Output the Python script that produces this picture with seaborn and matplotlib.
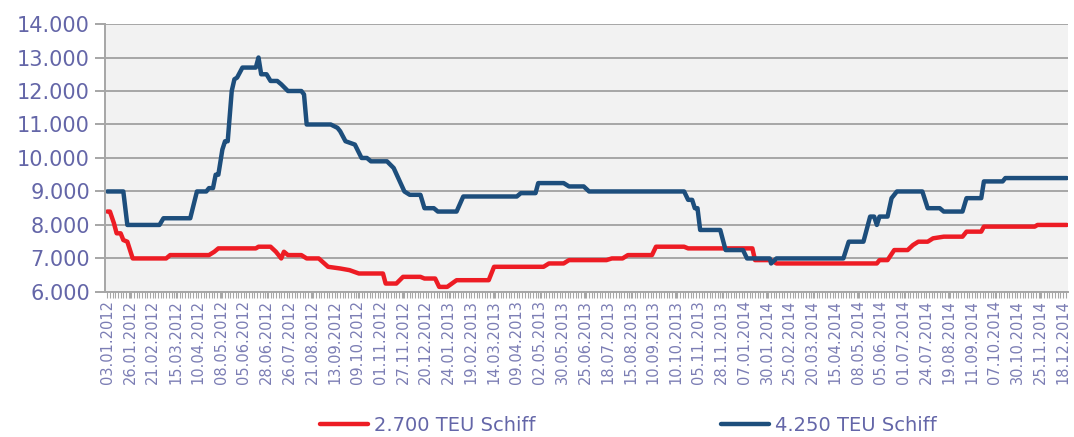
import pandas as pd
import seaborn as sns
import matplotlib.pyplot as plt
from matplotlib.ticker import FuncFormatter, MultipleLocator

# Charterraten (USD/Tag), Index = laufende Notierung
idx_2700 = [0, 2, 5, 7, 10, 12, 15, 19, 44, 47, 76, 80, 83, 111, 113, 122, 126, 130, 132, 135,
            145, 149, 158, 165, 174, 181, 188, 206, 208, 216, 221, 234, 237, 245, 248, 254, 261,
            285, 289, 326, 330, 341, 345, 373, 377, 385, 389, 407, 410, 431, 434, 482, 484, 496,
            500, 575, 577, 583, 588, 598, 602, 606, 613, 617, 625, 639, 642, 653, 655, 693, 695, 717]
teu_2700 = [8400, 8400, 8050, 7750, 7750, 7550, 7500, 7000, 7000, 7100, 7100, 7200, 7300, 7300,
            7350, 7350, 7200, 7000, 7200, 7100, 7100, 7000, 7000, 6750, 6700, 6650, 6550, 6550,
            6250, 6250, 6450, 6450, 6400, 6400, 6150, 6150, 6350, 6350, 6750, 6750, 6850, 6850,
            6950, 6950, 7000, 7000, 7100, 7100, 7350, 7350, 7300, 7300, 6950, 6950, 6850, 6850,
            6950, 6950, 7250, 7250, 7400, 7500, 7500, 7600, 7650, 7650, 7800, 7800, 7950, 7950,
            8000, 8000]

idx_4250 = [0, 12, 15, 39, 42, 62, 67, 74, 76, 79, 81, 83, 86, 88, 90, 93, 95, 97, 101, 111, 113,
            115, 119, 122, 127, 130, 135, 145, 147, 149, 167, 172, 174, 178, 185, 190, 194, 197,
            209, 214, 222, 226, 234, 237, 244, 247, 261, 266, 306, 309, 320, 322, 341, 345, 356,
            360, 431, 434, 437, 439, 441, 443, 458, 462, 475, 478, 495, 496, 500, 550, 554, 565,
            570, 573, 575, 577, 583, 586, 590, 609, 613, 622, 625, 639, 642, 653, 655, 669, 671, 717]
teu_4250 = [9000, 9000, 8000, 8000, 8200, 8200, 9000, 9000, 9100, 9100, 9500, 9500, 10250, 10500,
            10500, 12000, 12350, 12400, 12700, 12700, 13000, 12500, 12500, 12300, 12300, 12200,
            12000, 12000, 11900, 11000, 11000, 10900, 10800, 10500, 10400, 10000, 10000, 9900,
            9900, 9700, 9000, 8900, 8900, 8500, 8500, 8400, 8400, 8850, 8850, 8950, 8950, 9250,
            9250, 9150, 9150, 9000, 9000, 8750, 8750, 8500, 8500, 7850, 7850, 7250, 7250, 7000,
            7000, 6850, 7000, 7000, 7500, 7500, 8250, 8250, 8000, 8250, 8250, 8800, 9000, 9000,
            8500, 8500, 8400, 8400, 8800, 8800, 9300, 9300, 9400, 9400]

date_labels = ["03.01.2012", "26.01.2012", "21.02.2012", "15.03.2012", "10.04.2012", "08.05.2012",
               "05.06.2012", "28.06.2012", "26.07.2012", "21.08.2012", "13.09.2012", "09.10.2012",
               "01.11.2012", "27.11.2012", "20.12.2012", "24.01.2013", "19.02.2013", "14.03.2013",
               "09.04.2013", "02.05.2013", "30.05.2013", "25.06.2013", "18.07.2013", "15.08.2013",
               "10.09.2013", "10.10.2013", "05.11.2013", "28.11.2013", "07.01.2014", "30.01.2014",
               "25.02.2014", "20.03.2014", "15.04.2014", "08.05.2014", "05.06.2014", "01.07.2014",
               "24.07.2014", "19.08.2014", "11.09.2014", "07.10.2014", "30.10.2014", "25.11.2014",
               "18.12.2014"]
label_step = 17

df = pd.concat([
    pd.DataFrame({"idx": idx_2700, "rate": teu_2700, "Schiff": "2.700 TEU Schiff"}),
    pd.DataFrame({"idx": idx_4250, "rate": teu_4250, "Schiff": "4.250 TEU Schiff"}),
])

sns.set_style("white")
plt.rcParams['font.family'] = ['DejaVu Sans']

fig = plt.figure(figsize=(10.74, 4.37), dpi=100)
ax = fig.add_axes([0.098, 0.332, 0.896, 0.613])
ax.set_facecolor("#f2f2f2")

sns.lineplot(data=df, x="idx", y="rate", hue="Schiff", ax=ax, sort=False,
             palette={"2.700 TEU Schiff": "#ed1c24", "4.250 TEU Schiff": "#1d4e7c"},
             linewidth=3.2, estimator=None)

ax.set_ylim(6000, 14000)
ax.yaxis.set_major_locator(MultipleLocator(1000))
ax.yaxis.set_major_formatter(FuncFormatter(lambda v, p: f"{v:,.0f}".replace(",", ".")))
ax.grid(axis="y", color="#a6a6a6", linewidth=1.4)
ax.set_axisbelow(True)

ax.set_xlim(-1.5, 717.5)
ax.set_xticks(range(0, label_step * len(date_labels), label_step))
ax.set_xticklabels(date_labels, rotation=90)
ax.xaxis.set_minor_locator(MultipleLocator(2))

ax.tick_params(axis="y", labelsize=15, labelcolor="#6466a8", color="#a6a6a6",
               length=7, width=1.4, left=True, pad=4)
ax.tick_params(axis="x", which="both", labelsize=10.5, labelcolor="#7b7db4", color="#a6a6a6",
               length=4, width=0.8, bottom=True, pad=2)

for side in ["top", "right"]:
    ax.spines[side].set_visible(False)
for side in ["left", "bottom"]:
    ax.spines[side].set_color("#a6a6a6")
    ax.spines[side].set_linewidth(1.4)

ax.set_xlabel("")
ax.set_ylabel("")

handles, labels = ax.get_legend_handles_labels()
ax.get_legend().remove()
fig.legend(handles, labels, loc="center", bbox_to_anchor=(0.585, 0.027), ncol=2,
           frameon=False, fontsize=14, labelcolor="#6466a8", handlelength=2.5,
           handletextpad=0.3, columnspacing=9.5, borderpad=0.1)

plt.savefig("out.png", dpi=100)
